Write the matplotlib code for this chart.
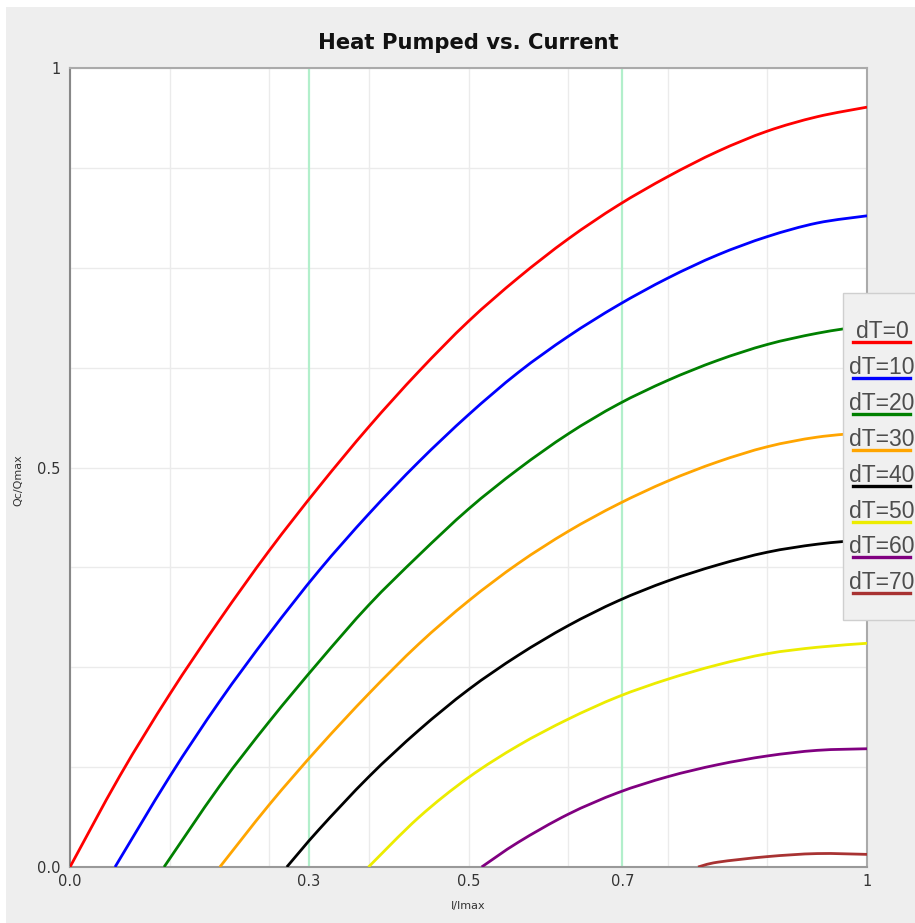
import matplotlib
matplotlib.use("Agg")
import matplotlib.pyplot as plt
from matplotlib.patches import Rectangle, PathPatch
from matplotlib.lines import Line2D
from matplotlib.path import Path
from matplotlib.ticker import MultipleLocator

# ---------------- data ----------------
labels = ["dT=0", "dT=10", "dT=20", "dT=30", "dT=40", "dT=50", "dT=60", "dT=70"]
colors = ["#ff0000", "#0000ff", "#008000", "#ffa500", "#000000", "#ecec00", "#800080", "#a83232"]

x_dt0 = [0, 0.0625, 0.125, 0.1875, 0.25, 0.3125, 0.375, 0.4375, 0.5, 0.5625, 0.625, 0.6875, 0.75, 0.8125, 0.875, 0.9375, 1.0]
y_dt0 = [0, 0.114, 0.216, 0.309, 0.396, 0.476, 0.551, 0.620, 0.683, 0.7375, 0.786, 0.828, 0.864, 0.8955, 0.921, 0.939, 0.951]

x_dt10 = [0.0565, 0.125, 0.1875, 0.25, 0.3125, 0.375, 0.4375, 0.5, 0.5625, 0.625, 0.6875, 0.75, 0.8125, 0.875, 0.9375, 1.0]
y_dt10 = [0, 0.113, 0.207, 0.292, 0.371, 0.442, 0.507, 0.566, 0.619, 0.664, 0.703, 0.737, 0.766, 0.789, 0.806, 0.815]

x_dt20 = [0.118, 0.1875, 0.25, 0.3125, 0.375, 0.4375, 0.5, 0.5625, 0.625, 0.6875, 0.75, 0.8125, 0.875, 0.9375, 1.0]
y_dt20 = [0, 0.101, 0.182, 0.257, 0.328, 0.390, 0.448, 0.498, 0.542, 0.579, 0.609, 0.634, 0.654, 0.668, 0.678]

x_dt30 = [0.188, 0.25, 0.3125, 0.375, 0.4375, 0.5, 0.5625, 0.625, 0.6875, 0.75, 0.8125, 0.875, 0.9375, 1.0]
y_dt30 = [0, 0.078, 0.150, 0.217, 0.279, 0.333, 0.380, 0.420, 0.454, 0.483, 0.507, 0.526, 0.538, 0.544]

x_dt40 = [0.272, 0.3125, 0.375, 0.4375, 0.5, 0.5625, 0.625, 0.6875, 0.75, 0.8125, 0.875, 0.9375, 1.0]
y_dt40 = [0, 0.047, 0.113, 0.171, 0.222, 0.265, 0.302, 0.333, 0.358, 0.378, 0.394, 0.404, 0.410]

x_dt50 = [0.3745, 0.4375, 0.5, 0.5625, 0.625, 0.6875, 0.75, 0.8125, 0.875, 0.9375, 1.0]
y_dt50 = [0, 0.062, 0.112, 0.152, 0.185, 0.213, 0.235, 0.253, 0.267, 0.275, 0.280]

x_dt60 = [0.5165, 0.5625, 0.625, 0.6875, 0.75, 0.8125, 0.875, 0.9375, 1.0]
y_dt60 = [0, 0.031, 0.066, 0.093, 0.113, 0.128, 0.139, 0.146, 0.148]

x_dt70 = [0.788, 0.8125, 0.875, 0.9375, 1.0]
y_dt70 = [0, 0.006, 0.013, 0.0168, 0.0158]

series_x = [x_dt0, x_dt10, x_dt20, x_dt30, x_dt40, x_dt50, x_dt60, x_dt70]
series_y = [y_dt0, y_dt10, y_dt20, y_dt30, y_dt40, y_dt50, y_dt60, y_dt70]

marker_lines = [0.3, 0.693]
x_ticks = [0, 0.3, 0.5, 0.693, 1]
x_ticklabels = ["0.0", "0.3", "0.5", "0.7", "1"]
y_ticks = [0, 0.5, 1]
y_ticklabels = ["0.0", "0.5", "1"]


def smooth_path(xs, ys):
    """Smooth line through the given points (Catmull-Rom drawn as cubic Beziers)."""
    pts = list(zip(xs, ys))
    verts = [pts[0]]
    codes = [Path.MOVETO]
    n = len(pts)
    for i in range(n - 1):
        p0 = pts[i - 1] if i > 0 else pts[i]
        p1 = pts[i]
        p2 = pts[i + 1]
        p3 = pts[i + 2] if i + 2 < n else pts[i + 1]
        c1 = (p1[0] + (p2[0] - p0[0]) / 6.0, p1[1] + (p2[1] - p0[1]) / 6.0)
        c2 = (p2[0] - (p3[0] - p1[0]) / 6.0, p2[1] - (p3[1] - p1[1]) / 6.0)
        verts += [c1, c2, p2]
        codes += [Path.CURVE4] * 3
    return Path(verts, codes)


# ---------------- figure ----------------
W, H = 915, 923
fig = plt.figure(figsize=(W / 100, H / 100), dpi=100)
fig.patch.set_facecolor("white")
fig.add_artist(Rectangle((6 / W, 0), 1, (H - 7) / H, transform=fig.transFigure,
                         facecolor="#eeeeee", edgecolor="none", zorder=-10))

ax = fig.add_axes([70 / W, 1 - 867 / H, 797 / W, 799 / H])
ax.set_facecolor("white")
ax.set_xlim(0, 1)
ax.set_ylim(0, 1)

ax.xaxis.set_minor_locator(MultipleLocator(0.125))
ax.yaxis.set_minor_locator(MultipleLocator(0.125))
ax.xaxis.remove_overlapping_locs = False
ax.yaxis.remove_overlapping_locs = False
ax.grid(which="minor", color="#ebebeb", lw=1.0, zorder=0)
ax.grid(which="major", visible=False)
ax.set_axisbelow(True)

for v in marker_lines:
    ax.axvline(v, color="#b2efcb", lw=1.6, zorder=1)

for xs, ys, c in zip(series_x, series_y, colors):
    patch = PathPatch(smooth_path(xs, ys), facecolor="none", edgecolor=c, lw=2.0,
                      transform=ax.transData, zorder=3, capstyle="butt")
    ax.add_patch(patch)

ax.set_xticks(x_ticks)
ax.set_xticklabels(x_ticklabels)
ax.set_yticks(y_ticks)
ax.set_yticklabels(y_ticklabels)
ax.tick_params(which="both", length=0)
ax.tick_params(axis="x", pad=5, labelsize=10.5, labelcolor="#333333")
ax.tick_params(axis="y", pad=7, labelsize=10.5, labelcolor="#333333")

for side, col in [("left", "#888888"), ("bottom", "#999999"), ("top", "#aaaaaa"), ("right", "#aaaaaa")]:
    ax.spines[side].set_color(col)
    ax.spines[side].set_linewidth(1.5)

ax.set_title("Heat Pumped vs. Current", fontsize=15.2, fontweight="bold", color="#111111", pad=14)
ax.set_xlabel("I/Imax", fontsize=8, color="#333333")
ax.xaxis.set_label_coords(0.5, -0.043)
ax.set_ylabel("Qc/Qmax", fontsize=8, color="#333333")
ax.yaxis.set_label_coords(-0.059, 0.484)

# ---------------- legend (box cut by right edge as in reference) ----------------
box_top, box_bot, box_left = 293, 620, 843
fig.add_artist(Rectangle((box_left / W, 1 - box_bot / H), 1, (box_bot - box_top) / H,
                         transform=fig.transFigure, facecolor="#f0f0f0",
                         edgecolor="#cfcfcf", lw=1.0, zorder=10))
first_line_y, step = 342.3, 35.86
for i, (lab, c) in enumerate(zip(labels, colors)):
    ly = first_line_y + i * step
    fig.add_artist(Line2D([853 / W, 910 / W], [1 - ly / H, 1 - ly / H], transform=fig.transFigure,
                          color=c, lw=2.4, zorder=11))
    fig.text(882 / W, 1 - (ly - 4) / H, lab, ha="center", va="baseline",
             fontsize=16.5, family="Liberation Sans", color="#4d4d4d", zorder=12)

fig.savefig("out.png", dpi=100)
